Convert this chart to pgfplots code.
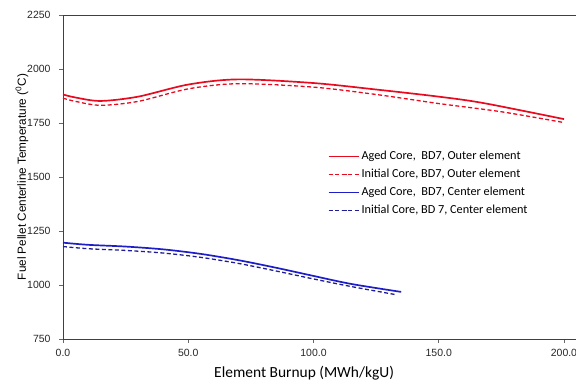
\documentclass[border=0pt]{standalone}
\usepackage{pgfplots}
\pgfplotsset{compat=1.18}
\usepackage{fontspec}
\setmainfont{Liberation Sans}
\newfontfamily\calibri{Carlito}
\definecolor{cred}{RGB}{232,10,30}
\definecolor{cblue}{RGB}{30,30,200}
\definecolor{cnavy}{RGB}{30,30,150}
\begin{document}
\begin{tikzpicture}
\useasboundingbox (0,0) rectangle (576bp,384bp);
\begin{axis}[
  at={(63bp,45bp)}, anchor=south west,
  scale only axis, width=513bp, height=324bp,
  xmin=0, xmax=204.8, ymin=750, ymax=2250,
  axis x line=box, axis y line=left,
  axis line style={-, draw=black!75, line width=0.8pt},
  xtick={0,50,100,150,200}, ytick={750,1000,1250,1500,1750,2000,2250},
  tick align=outside, xtick pos=bottom, ytick pos=left,
  major tick length=4bp, tick style={draw=black!60, line width=0.5pt},
  xticklabel style={/pgf/number format/.cd, fixed, fixed zerofill, precision=1, assume math mode=true, /tikz/.cd, yshift=-3bp},
  yticklabel style={/pgf/number format/.cd, fixed, 1000 sep={}, assume math mode=true, /tikz/.cd, xshift=-5bp},
  ticklabel style={font=\fontsize{10.5}{12}\selectfont, text=black!85},
  xlabel={\calibri Element Burnup (MWh/kgU)},
  ylabel={Fuel Pellet Centerline Temperature (\textsuperscript{0}C)},
  xlabel style={at={(axis description cs:0.47,-0.105)}, anchor=center, font=\fontsize{15.5}{18}\selectfont},
  ylabel style={at={(axis description cs:-0.08,0.5)}, anchor=center, font=\fontsize{11.8}{14}\selectfont},
  legend style={at={(axis description cs:0.51,0.592)}, anchor=north west, draw=none, fill=none,
    font=\calibri\fontsize{12.3}{14}\selectfont, row sep=4bp,
    /tikz/every even column/.append style={column sep=0pt}},
  legend cell align=left,
  legend image code/.code={\draw[#1] plot coordinates {(0bp,0bp) (15bp,0bp) (30bp,0bp)};},
]
\addplot[cred, line width=1.7pt, smooth, tension=0.5] coordinates {
(0,1882) (5,1868) (15,1852) (30,1872) (50,1928) (70,1952) (100,1935) (125,1905) (150,1872) (168,1842) (200,1768)};
\addlegendentry{Aged Core,\ \ BD7, Outer element}
\addplot[cred, line width=1.3pt, dash pattern=on 4bp off 2.5bp, smooth, tension=0.5] coordinates {
(0,1865) (5,1850) (15,1832) (30,1850) (50,1908) (70,1932) (100,1916) (125,1882) (150,1840) (175,1802) (200,1752)};
\addlegendentry{Initial Core, BD7, Outer element}
\addplot[cblue, line width=1.7pt, smooth, tension=0.5] coordinates {
(0,1196) (10,1186) (25,1178) (40,1165) (55,1144) (70,1115) (85,1080) (100,1042) (115,1005) (135,968)};
\addlegendentry{Aged Core,\ \ BD7, Center element}
\addplot[cnavy, line width=1.3pt, dash pattern=on 4bp off 2.5bp, smooth, tension=0.5] coordinates {
(0,1178) (10,1168) (25,1160) (40,1148) (55,1128) (70,1100) (85,1065) (100,1028) (115,993) (133,955)};
\addlegendentry{Initial Core, BD 7, Center element}
\end{axis}
\end{tikzpicture}
\end{document}
